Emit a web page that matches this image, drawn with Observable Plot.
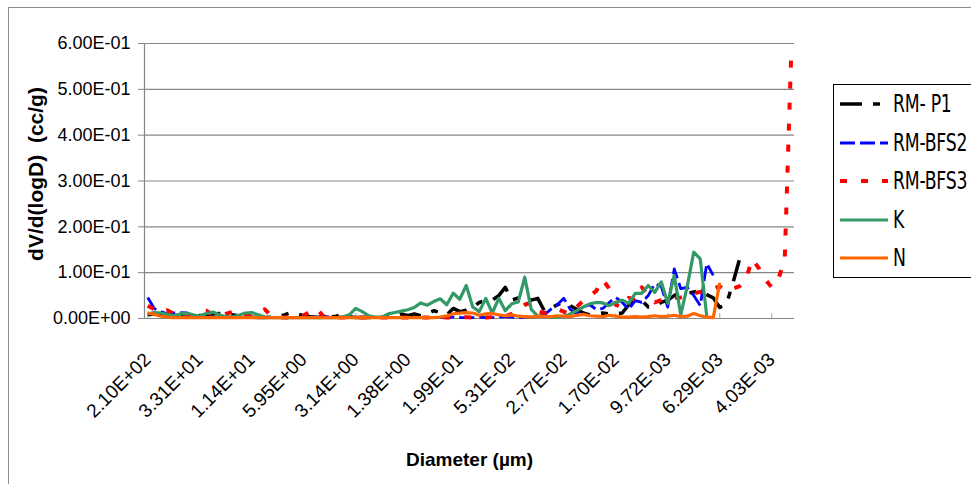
<!DOCTYPE html>
<html><head><meta charset="utf-8">
<script src="https://cdn.jsdelivr.net/npm/d3@7"></script>
<script src="https://cdn.jsdelivr.net/npm/@observablehq/plot@0.6"></script>
<style>
html,body{margin:0;padding:0;background:#fff;overflow:hidden;width:971px;height:484px;}
#wrap{position:relative;width:971px;height:484px;overflow:hidden;}
#border{position:absolute;left:8px;top:7px;width:1100px;height:600px;border:1px solid #8c8c8c;}
#chart{position:absolute;left:0;top:0;}
#legend{position:absolute;left:833px;top:84px;width:200px;height:192px;border:1px solid #000;background:#fff;
  font-family:"Liberation Sans Narrow","DejaVu Sans Condensed","Liberation Sans",sans-serif;font-size:24px;color:#000;}
.item{position:absolute;left:6px;height:30px;display:flex;align-items:center;white-space:nowrap;}
.item svg{margin-right:5px;flex:none;}
.item span{display:inline-block;transform:scaleX(0.8);transform-origin:0 50%;letter-spacing:-0.3px;}
</style>
</head><body>
<div id="wrap"><div id="border"></div><div id="chart"></div><div id="legend"></div></div>
<script>
// ---- data ----
const seriesNames = ["RM- P1", "RM-BFS2", "RM-BFS3", "K", "N"];
const xTickLabels = ["2.10E+02","3.31E+01","1.14E+01","5.95E+00","3.14E+00","1.38E+00","1.99E-01","5.31E-02","2.77E-02","1.70E-02","9.72E-03","6.29E-03","4.03E-03"];
const labelEvery = 8;
const categoryCount = 100;
const yTicks = [0, 0.1, 0.2, 0.3, 0.4, 0.5, 0.6];
const yTickLabels = ["0.00E+00","1.00E-01","2.00E-01","3.00E-01","4.00E-01","5.00E-01","6.00E-01"];

const p1 = [0.008,0.01,0.008,0.006,0.005,0.004,0.003,0.004,0.006,0.008,
0.01,0.011,0.01,0.008,0.006,0.004,0.003,0.002,0.002,0.003,
0.004,0.008,0.013,0.01,0.006,0.004,0.003,0.002,0.003,0.005,
0.009,0.004,0.002,0.002,0.002,0.002,0.003,0.004,0.006,0.01,
0.006,0.01,0.006,0.01,0.017,0.013,0.008,0.022,0.015,0.018,
0.025,0.035,0.039,0.04,0.05,0.068,0.04,0.045,0.048,0.04,
0.044,0.017,0.022,0.03,0.035,0.028,0.02,0.012,0.008,0.01,
0.012,0.01,0.01,0.012,0.03,0.044,0.04,0.025,0.028,0.035,
0.04,0.05,0.057,0.055,0.058,0.06,0.052,0.045,0.024,0.03,
0.076,0.127,null,null,null,null,null,null,null,null];

const bfs2 = [0.046,0.022,0.015,0.01,0.012,0.013,0.012,0.006,0.004,0.003,
0.003,0.002,0.003,0.002,0.003,0.002,0.002,0.003,0.002,0.002,
0.002,0.003,0.002,0.002,0.002,0.003,0.004,0.005,0.003,0.002,
0.002,0.002,0.002,0.002,0.002,0.002,0.002,0.002,0.002,0.002,
0.002,0.002,0.002,0.002,0.002,0.002,0.002,0.003,0.002,0.002,
0.002,0.003,0.002,0.002,0.003,0.004,0.003,0.002,0.003,0.003,
0.004,0.008,0.02,0.03,0.044,0.02,0.01,0.025,0.03,0.02,
0.022,0.035,0.046,0.035,0.02,0.039,0.035,0.05,0.076,0.07,
0.025,0.108,0.065,0.068,0.05,0.028,0.12,0.094,null,null,
null,null,null,null,null,null,null,null,null,null];

const bfs3 = [0.028,0.02,0.012,0.018,0.01,0.005,0.004,0.008,0.015,0.017,
0.008,0.005,0.01,0.014,0.017,0.008,0.004,0.014,0.02,0.006,
0.002,0.002,0.002,0.003,0.006,0.016,0.022,0.005,0.002,0.002,
0.002,0.002,0.003,0.002,0.002,0.002,0.002,0.002,0.003,0.002,
0.002,0.002,0.002,0.002,0.002,0.003,0.002,0.002,0.002,0.003,
0.002,0.002,0.002,0.003,0.002,0.005,0.01,0.02,0.03,0.035,
0.015,0.012,0.018,0.02,0.015,0.01,0.025,0.039,0.05,0.06,
0.085,0.065,0.03,0.025,0.045,0.04,0.068,0.05,0.035,0.04,
0.04,0.045,0.046,0.05,0.055,0.058,0.06,0.065,0.07,0.06,
0.065,0.07,0.085,0.13,0.11,0.085,0.068,0.085,0.13,0.58];

const k = [0.01,0.013,0.012,0.009,0.006,0.01,0.012,0.008,0.005,0.011,
0.014,0.008,0.004,0.003,0.007,0.012,0.013,0.008,0.003,0.002,
0.002,0.002,0.002,0.002,0.002,0.002,0.002,0.002,0.002,0.002,
0.003,0.008,0.022,0.015,0.006,0.003,0.003,0.01,0.013,0.016,
0.019,0.024,0.034,0.029,0.037,0.043,0.03,0.055,0.042,0.072,
0.025,0.015,0.044,0.012,0.044,0.017,0.032,0.036,0.09,0.02,
0.005,0.004,0.003,0.003,0.004,0.01,0.017,0.025,0.032,0.035,
0.034,0.028,0.035,0.04,0.033,0.055,0.055,0.072,0.057,0.08,
0.033,0.094,0.008,0.07,0.145,0.13,0.005,null,null,null,
null,null,null,null,null,null,null,null,null,null];

const nSeries = [0.012,0.009,0.005,0.003,0.002,0.002,0.002,0.002,0.002,0.002,
0.002,0.002,0.002,0.002,0.002,0.002,0.002,0.002,0.002,0.002,
0.002,0.002,0.002,0.002,0.002,0.002,0.002,0.002,0.002,0.002,
0.002,0.002,0.002,0.002,0.002,0.002,0.002,0.002,0.002,0.002,
0.002,0.002,0.002,0.002,0.002,0.003,0.006,0.01,0.012,0.013,
0.012,0.007,0.01,0.011,0.008,0.006,0.008,0.005,0.004,0.003,
0.005,0.004,0.004,0.006,0.005,0.004,0.007,0.009,0.006,0.005,
0.004,0.007,0.005,0.003,0.003,0.004,0.003,0.004,0.006,0.004,
0.005,0.007,0.004,0.005,0.011,0.006,0.003,0.002,0.078,null,
null,null,null,null,null,null,null,null,null,null];

const seriesValues = [p1, bfs2, bfs3, k, nSeries];
const seriesColors = ["#000000", "#0000ff", "#ff0000", "#339966", "#ff6600"];
const seriesDash = ["22,11,7,11", "15,5", "7,14", null, null];
const seriesWidth = [3.5, 2.8, 4, 3.2, 3.2];

// ---- build ----
const xTickIdx = xTickLabels.map((_, j) => j * labelEvery);
const xLabelMap = new Map(xTickIdx.map((t, j) => [t, xTickLabels[j]]));
const yLabelMap = new Map(yTicks.map((t, j) => [t, yTickLabels[j]]));
const xDomain = [-0.5, categoryCount - 0.5];

const lineMarks = seriesValues.map((vals, s) => {
  const rows = vals.map((v, i) => ({i, v}));
  return Plot.line(rows, {
    x: "i", y: "v", defined: d => d.v != null,
    stroke: seriesColors[s], strokeWidth: seriesWidth[s],
    strokeDasharray: seriesDash[s] || undefined,
    strokeLinejoin: "round", strokeLinecap: "butt"
  });
});

const chart = Plot.plot({
  width: 971, height: 484,
  marginLeft: 144, marginRight: 177, marginTop: 43, marginBottom: 166,
  style: {fontFamily: "'Liberation Sans', Arial, sans-serif", fontSize: "18px", color: "#000", background: "transparent", overflow: "visible"},
  x: {domain: xDomain, axis: null},
  y: {domain: [0, 0.6], axis: null},
  marks: [
    Plot.gridY(yTicks, {stroke: "#868686", strokeOpacity: 1, strokeWidth: 1.2}),
    Plot.ruleX([xDomain[0]], {stroke: "#868686", strokeWidth: 1.2}),
    Plot.ruleY([0], {stroke: "#868686", strokeWidth: 1.2}),
    Plot.axisY(yTicks, {tickFormat: d => yLabelMap.get(d), tickSize: 6, tickPadding: 8, stroke: "#868686", fontSize: 18, label: null}),
    Plot.axisX(xTickIdx, {tickFormat: () => "", tickSize: -5, stroke: "#a6a6a6", label: null}),
    Plot.axisX(xTickIdx, {tickFormat: d => xLabelMap.get(d), tickRotate: -45, tickSize: 0, tickPadding: 38, fontSize: 19, label: null}),
    ...lineMarks,
    Plot.text(["Diameter (µm)"], {frameAnchor: "bottom", dy: 134, lineAnchor: "top", fontWeight: "bold", fontSize: 19}),
    Plot.text(["dV/d(logD)  (cc/g)"], {frameAnchor: "left", textAnchor: "middle", dx: -108, dy: -7, rotate: -90, fontWeight: "bold", fontSize: 21})
  ]
});
document.getElementById("chart").appendChild(chart);

// ---- legend ----
const legend = document.getElementById("legend");
seriesNames.forEach((name, s) => {
  const item = document.createElement("div");
  item.className = "item";
  item.style.top = (4 + s * 38.5) + "px";
  const dash = seriesDash[s] ? `stroke-dasharray="${seriesDash[s]}"` : "";
  item.innerHTML = `<svg width="48" height="12"><line x1="0" y1="6" x2="48" y2="6" stroke="${seriesColors[s]}" stroke-width="${seriesWidth[s]}" ${dash}/></svg><span>${name}</span>`;
  legend.appendChild(item);
});
</script>
</body></html>
